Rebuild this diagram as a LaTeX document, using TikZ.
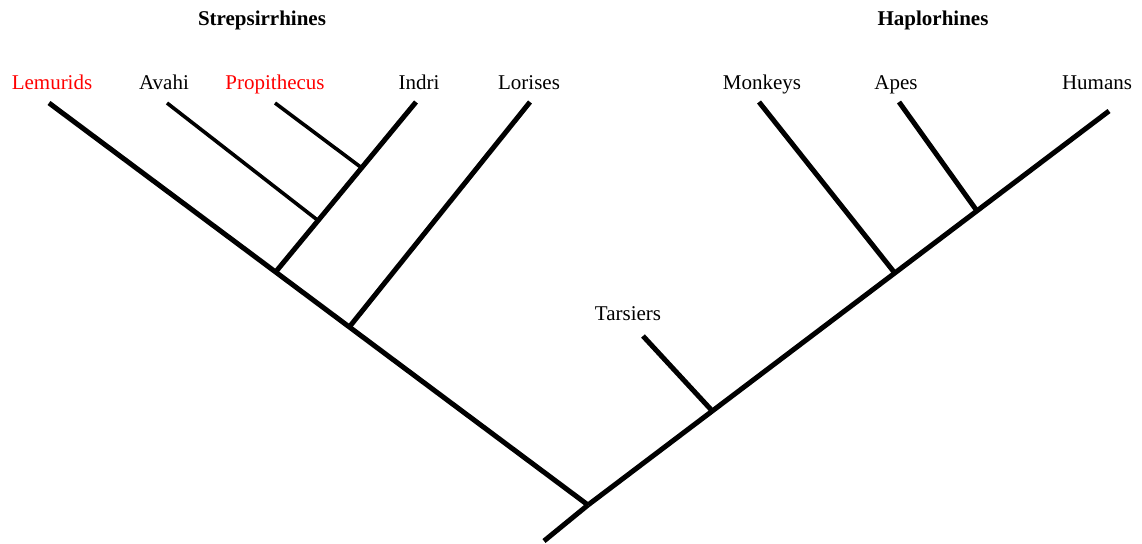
\documentclass[tikz,border=0pt]{standalone}
\usepackage{fontspec}
\setmainfont{Liberation Serif}
\begin{document}
\begin{tikzpicture}[x=1pt,y=-1pt,
  thick branch/.style={line width=5pt, black},
  thin branch/.style={line width=3.6pt, black},
  taxon/.style={anchor=base, inner sep=0pt, font=\fontsize{21}{25}\selectfont},
  clade/.style={anchor=base, inner sep=0pt, font=\fontsize{21}{25}\selectfont\bfseries},
  highlight/.style={text=red}]
\useasboundingbox (0,0) rectangle (1142,543);

% clade headings
\node[clade] (strep) at (262,26) {Strepsirrhines};
\node[clade] (haplo) at (933,26) {Haplorhines};

% leaf labels
\node[taxon,highlight] (lemlab) at (52,89) {Lemurids};
\node[taxon] (avalab) at (164,89) {Avahi};
\node[taxon,highlight] (prolab) at (275,89) {Propithecus};
\node[taxon] (indlab) at (419,89) {Indri};
\node[taxon] (lorlab) at (529,89) {Lorises};
\node[taxon] (monlab) at (762,89) {Monkeys};
\node[taxon] (apelab) at (896,89) {Apes};
\node[taxon] (humlab) at (1097,89) {Humans};
\node[taxon] (tarlab) at (628,320) {Tarsiers};

% branch tips
\coordinate (base) at (544,541);
\coordinate (lem) at (49,103);
\coordinate (ava) at (167,103);
\coordinate (pro) at (275,103);
\coordinate (ind) at (416,102);
\coordinate (lor) at (530,102);
\coordinate (tar) at (643,336);
\coordinate (mon) at (759,102);
\coordinate (ape) at (899,102);
\coordinate (hum) at (1109,111);

% internal nodes
\coordinate (root) at (588,505);
\coordinate (jlor) at (349.3,327);
\coordinate (jind) at (275.6,272);
\coordinate (java) at (318.7,221);
\coordinate (jpro) at (361.9,168);
\coordinate (jtar) at (712.3,411);
\coordinate (jmon) at (894,272);
\coordinate (jape) at (977,211);

% tree
\draw[thick branch] (base) -- (root);
\draw[thick branch] (root) -- (lem);
\draw[thick branch] (root) -- (hum);
\draw[thick branch] (jlor) -- (lor);
\draw[thick branch] (jind) -- (ind);
\draw[thin branch] (java) -- (ava);
\draw[thin branch] (jpro) -- (pro);
\draw[thick branch] (jtar) -- (tar);
\draw[thick branch] (jmon) -- (mon);
\draw[thick branch] (jape) -- (ape);
\end{tikzpicture}
\end{document}
